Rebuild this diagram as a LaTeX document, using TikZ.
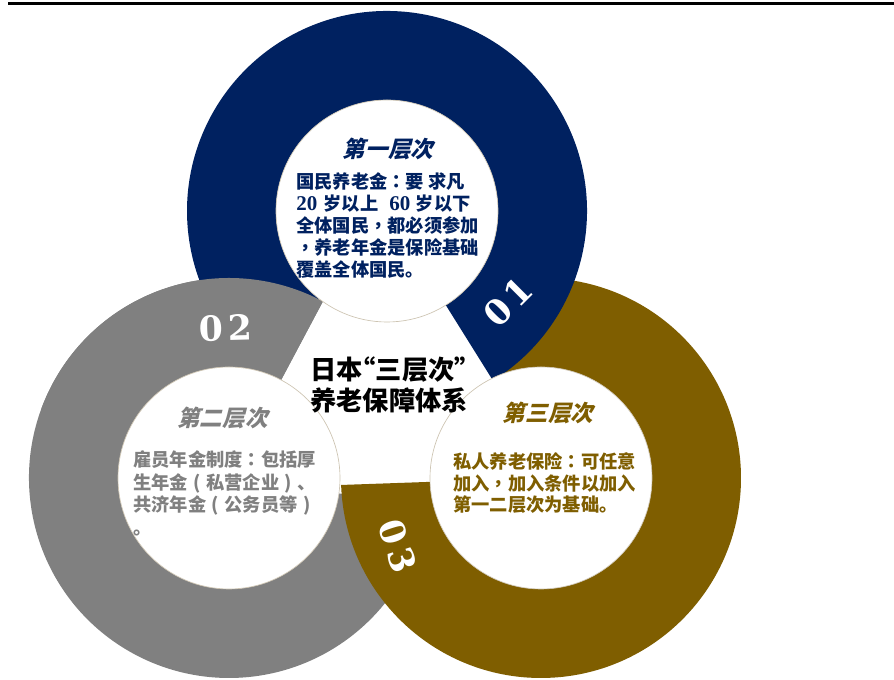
\documentclass[tikz,border=0pt]{standalone}
\usepackage{fontspec}
\newfontfamily\cjk{Noto Sans CJK SC}
\newfontfamily\cjktc{Noto Sans CJK TC}
\newfontfamily\cjksl{Noto Sans CJK SC}[FakeSlant=0.25]
\newfontfamily\numserif{DejaVu Serif}[LetterSpace=14]
\newfontfamily\digserif{Liberation Serif}[Scale=1.15]
\newcommand\osn[1]{{\digserif\bfseries #1}}
\newcommand\CO{{\cjktc ：}}
\newcommand\CM{{\cjktc ，}}
\newcommand\LP{\makebox[1em][c]{(}}
\newcommand\RP{\makebox[1em][c]{)}}
\newcommand\LQ{\makebox[0.5em][r]{“}}
\newcommand\RQ{\makebox[0.5em][l]{”}}
\definecolor{navyc}{RGB}{0,33,96}
\definecolor{grayc}{RGB}{128,128,128}
\definecolor{goldc}{RGB}{127,94,0}
\definecolor{rimc}{RGB}{205,196,178}
\newcommand\ringseg[4]{%
  \fill[#1] ([shift={(#3:200)}]#2) arc[start angle=#3,end angle=#4,radius=200]
    -- ([shift={(#4:111)}]#2) arc[start angle=#4,end angle=#3,radius=111] -- cycle;}
\begin{document}
\begin{tikzpicture}[x=0.75pt,y=0.75pt,
  bodytxt/.style={anchor=west,inner sep=0pt,text height=12pt,text depth=1.7pt,
    font=\cjk\bfseries\fontsize{13.7}{16}\selectfont},
  headtxt/.style={inner sep=0pt,text height=14.9pt,text depth=2pt,
    font=\cjksl\bfseries\fontsize{16.9}{20}\selectfont},
  ttltxt/.style={inner sep=0pt,text height=17.3pt,text depth=2.4pt,text=black,
    font=\cjk\bfseries\fontsize{19.7}{23}\selectfont},
  numtxt/.style={inner sep=0pt,text=white,font=\numserif\bfseries\fontsize{26}{28}\selectfont},
  disk/.style={fill=white,draw=rimc,line width=0.5pt}]
\useasboundingbox (0,0) rectangle (894,680);
\fill[white] (0,0) rectangle (894,680);
% top rule
\coordinate (tl) at (8,676.5);
\coordinate (tr) at (894,676.5);
\draw[line width=2.25pt,black] (tl) -- (tr);
% ring centres
\coordinate (cn) at (387,469);
\coordinate (cg) at (229,202);
\coordinate (cd) at (541,202);
% rings (cyclic overlap)
\ringseg{grayc}{cg}{62}{352}
\ringseg{goldc}{cd}{182}{472}
\ringseg{navyc}{cn}{-58}{232}
\ringseg{grayc}{cg}{62}{160}
% inner disks
\path[disk] (cn) circle[radius=111];
\path[disk] (cg) circle[radius=111];
\path[disk] (cd) circle[radius=111];
% numbers
\node[numtxt,rotate=45] (n01) at (508,378) {01};
\node[numtxt,rotate=1.5] (n02) at (226,352) {02};
\node[numtxt,rotate=-72] (n03) at (397.5,134) {03};
% title
\node[ttltxt] (t1) at (389,310) {日本\LQ 三层次\RQ};
\node[ttltxt] (t2) at (389,279) {养老保障体系};
% first level
\node[headtxt,text=navyc] (h1) at (388,531) {第一层次};
\node[bodytxt,text=navyc] (a1) at (296,498) {国民养老金\CO 要 求凡};
\node[bodytxt,text=navyc] (a2) at (296,476) {\osn{20}\hspace{0.35em}岁以上\hspace{0.6em}\osn{60}\hspace{0.3em}岁以下};
\node[bodytxt,text=navyc] (a3) at (296,454) {全体国民\CM 都必须参加};
\node[bodytxt,text=navyc] (a4) at (296,432) {\CM 养老年金是保险基础};
\node[bodytxt,text=navyc] (a5) at (296,410) {覆盖全体国民。};
% second level
\node[headtxt,text=grayc] (h2) at (222.5,262) {第二层次};
\node[bodytxt,text=grayc] (b1) at (133,220) {雇员年金制度\CO 包括厚};
\node[bodytxt,text=grayc] (b2) at (133,197.5) {生年金\LP 私营企业\RP 、};
\node[bodytxt,text=grayc] (b3) at (133,175) {共济年金\LP 公务员等\RP};
\node[bodytxt,text=grayc] (b4) at (133,152.5) {。};
% third level
\node[headtxt,text=goldc] (h3) at (548,267) {第三层次};
\node[bodytxt,text=goldc] (c1) at (453,218) {私人养老保险\CO 可任意};
\node[bodytxt,text=goldc] (c2) at (453,196.5) {加入\CM 加入条件以加入};
\node[bodytxt,text=goldc] (c3) at (453,175) {第一二层次为基础。};
\end{tikzpicture}
\end{document}
